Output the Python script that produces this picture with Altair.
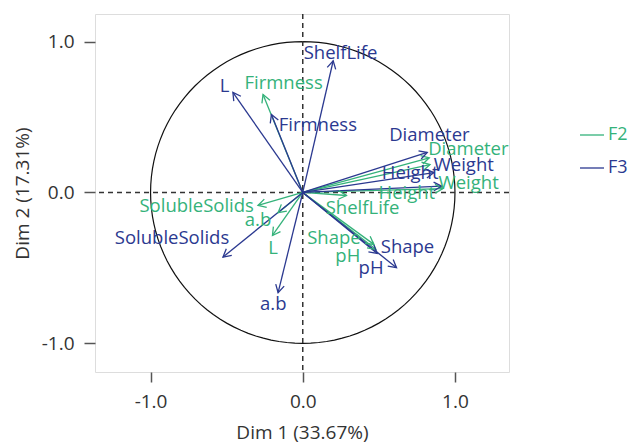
import altair as alt
import pandas as pd

# Variables in the correlation circle
variables = ["Firmness", "Diameter", "Height", "Weight", "ShelfLife",
             "SolubleSolids", "a.b", "L", "Shape", "pH"]

# F2 (green) arrow end points
f2_x = [-0.261, 0.831, 0.836, 0.921, 0.287, -0.294, -0.162, -0.199, 0.467, 0.480]
f2_y = [0.649, 0.230, 0.185, 0.026, -0.020, -0.086, -0.134, -0.285, -0.344, -0.377]
# F2 label positions
f2_lx = [-0.126, 1.088, 0.684, 1.090, 0.393, -0.697, -0.294, -0.195, 0.205, 0.296]
f2_ly = [0.726, 0.285, -0.002, 0.064, -0.101, -0.091, -0.183, -0.366, -0.300, -0.422]

# F3 (blue) arrow end points
f3_x = [-0.206, 0.818, 0.862, 0.912, 0.200, -0.524, -0.162, -0.459, 0.489, 0.616]
f3_y = [0.517, 0.265, 0.132, 0.042, 0.873, -0.428, -0.664, 0.664, -0.404, -0.499]
# F3 label positions
f3_lx = [0.099, 0.832, 0.706, 1.058, 0.248, -0.859, -0.194, -0.513, 0.688, 0.449]
f3_ly = [0.450, 0.384, 0.126, 0.185, 0.925, -0.300, -0.742, 0.709, -0.360, -0.499]

groups = ["F2", "F3"]
colors = ["#34b27a", "#2b3990"]

x_title = "Dim 1 (33.67%)"
y_title = "Dim 2 (17.31%)"
ticks = [-1.0, 0.0, 1.0]

rows = []
for g, xs, ys, lxs, lys in [("F2", f2_x, f2_y, f2_lx, f2_ly),
                            ("F3", f3_x, f3_y, f3_lx, f3_ly)]:
    for v, x, y, lx, ly in zip(variables, xs, ys, lxs, lys):
        rows.append({"var": v, "group": g, "x": x, "y": y, "lx": lx, "ly": ly})
df = pd.DataFrame(rows)

FONT = "Open Sans"
xscale = alt.Scale(domain=[-1.365, 1.355], nice=False, zero=False)
yscale = alt.Scale(domain=[-1.19, 1.183], nice=False, zero=False)
label_expr = "datum.value < 0 ? '-' + format(abs(datum.value), '.1f') : format(datum.value, '.1f')"
xaxis = alt.Axis(values=ticks, labelExpr=label_expr, title=x_title, grid=False,
                 domain=False, tickSize=10, tickWidth=1.5, tickColor="#555",
                 labelPadding=10, titlePadding=12, labelFontSize=19, titleFontSize=19,
                 labelFont=FONT, titleFont=FONT, labelColor="#333", titleColor="#333",
                 titleFontWeight="normal")
yaxis = alt.Axis(values=ticks, labelExpr=label_expr, title=y_title, grid=False,
                 domain=False, tickSize=11, tickWidth=1.5, tickColor="#555",
                 labelPadding=10, titlePadding=9, labelFontSize=19, titleFontSize=19,
                 labelFont=FONT, titleFont=FONT, labelColor="#333", titleColor="#333",
                 titleFontWeight="normal")
color_scale = alt.Scale(domain=groups, range=colors)

circle = alt.Chart(alt.sequence(0, 361, 3, as_="t")).transform_calculate(
    cx="cos(datum.t * PI / 180)", cy="sin(datum.t * PI / 180)"
).mark_line(color="#111", strokeWidth=1.2).encode(
    x=alt.X("cx:Q", scale=xscale, axis=xaxis),
    y=alt.Y("cy:Q", scale=yscale, axis=yaxis),
    order="t:Q",
)

zero = pd.DataFrame({"v": [0.0]})
vline = alt.Chart(zero).mark_rule(color="#333", strokeDash=[5, 4], strokeWidth=1.5).encode(
    x=alt.X("v:Q", scale=xscale))
hline = alt.Chart(zero).mark_rule(color="#333", strokeDash=[5, 4], strokeWidth=1.5).encode(
    y=alt.Y("v:Q", scale=yscale))

base = alt.Chart(df).transform_calculate(x0="0", y0="0")

shafts = base.mark_rule(strokeWidth=1.3).encode(
    x=alt.X("x0:Q", scale=xscale),
    y=alt.Y("y0:Q", scale=yscale),
    x2="x:Q",
    y2="y:Q",
    color=alt.Color("group:N", scale=color_scale, legend=alt.Legend(
        title=None, orient="none", legendX=484, legendY=108, symbolType="stroke",
        symbolSize=576, symbolStrokeWidth=1.3, labelFontSize=18, labelFont=FONT,
        labelOffset=3, rowPadding=11, padding=0,
        labelColor={"expr": "datum.value == 'F2' ? '#34b27a' : '#2b3990'"})),
)

arrow_path = "M -0.5 0.9 L 0 0 L 0.5 0.9"
heads = base.transform_calculate(
    ang="(atan2(datum.x, datum.y) * 180 / PI + 360) % 360"
).mark_point(shape=arrow_path, filled=False, size=300, strokeWidth=1.3, opacity=1).encode(
    x=alt.X("x:Q", scale=xscale),
    y=alt.Y("y:Q", scale=yscale),
    angle=alt.Angle("ang:Q", scale=None),
    color=alt.Color("group:N", scale=color_scale, legend=None),
)

labels = base.mark_text(fontSize=18.5, font=FONT).encode(
    x=alt.X("lx:Q", scale=xscale),
    y=alt.Y("ly:Q", scale=yscale),
    text="var:N",
    color=alt.Color("group:N", scale=color_scale, legend=None),
)

chart = alt.layer(circle, vline, hline, shafts, heads, labels).properties(
    width=414, height=358,
    autosize=alt.AutoSizeParams(type="none"),
    padding={"left": 87, "top": 6, "right": 121, "bottom": 76},
).configure_view(stroke="#333", strokeWidth=1.5).configure(background="white")

chart.save("out.html", embed_options={"renderer": "svg", "actions": False})
